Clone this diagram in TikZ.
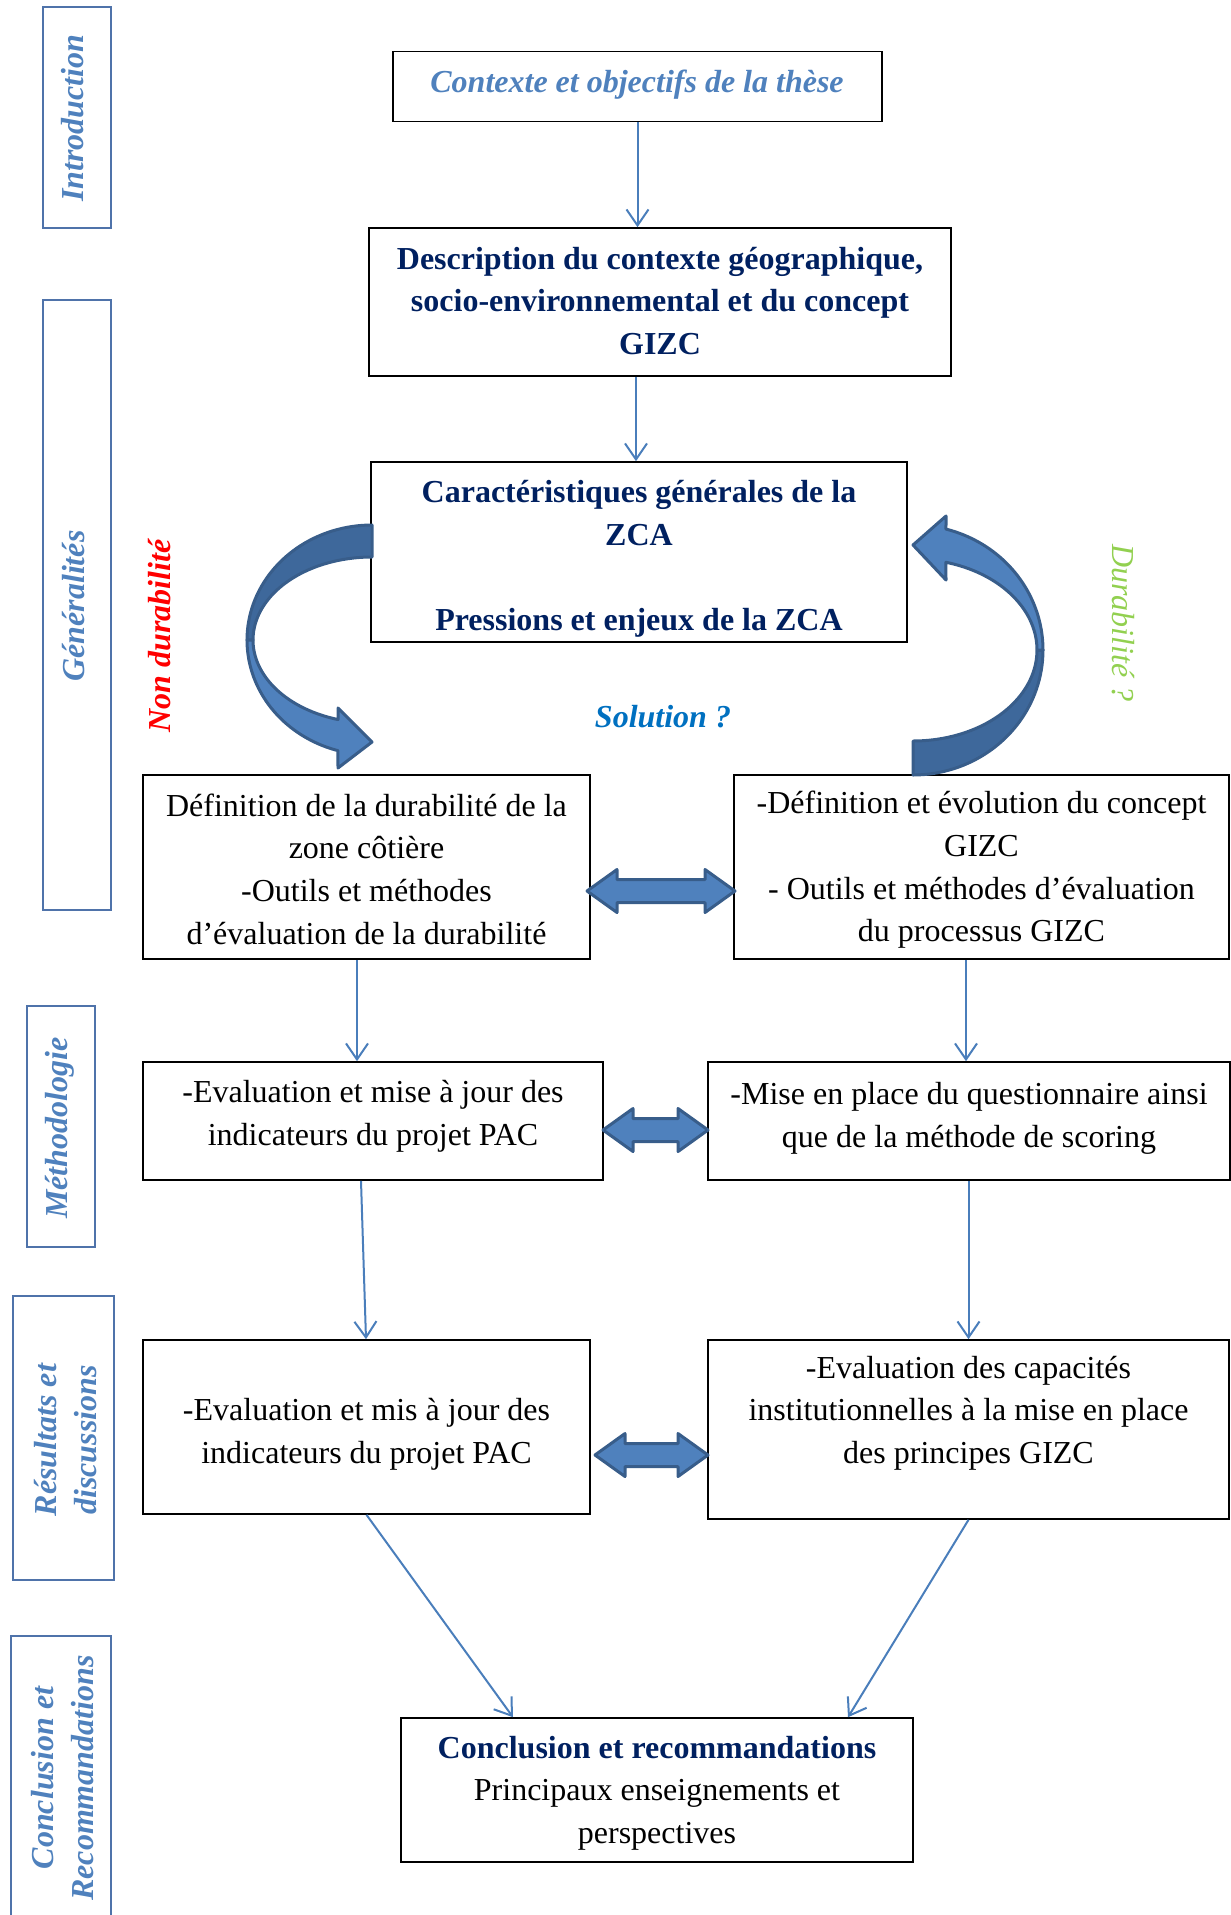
\documentclass[tikz,border=0pt]{standalone}
\usepackage{fontspec}
\setmainfont{Liberation Serif}
\usetikzlibrary{arrows.meta}
\definecolor{navy}{RGB}{0,32,96}
\definecolor{accent}{RGB}{79,129,189}
\definecolor{solblue}{RGB}{0,112,192}
\definecolor{durgreen}{RGB}{146,208,80}
\definecolor{lineblue}{RGB}{74,126,187}
\definecolor{sideedge}{RGB}{79,115,170}
\definecolor{arrowedge}{RGB}{56,93,138}
\definecolor{arrowdark}{RGB}{62,104,155}
\newcommand{\blockdbl}[3]{%
  \filldraw[blockarrow] (#1,#3) -- ++(30,-21.5) -- ++(0,10) -- ({#2-30},{#3-11.5}) -- ++(0,-10) -- (#2,#3)
    -- ({#2-30},{#3+21.5}) -- ++(0,-10) -- ({#1+30},{#3+11.5}) -- ++(0,10) -- cycle;}
\begin{document}
\begin{tikzpicture}[x=1pt,y=-1pt,
  mainbox/.style={draw=black, line width=1.6pt, rectangle, inner sep=0pt},
  sidebox/.style={draw=sideedge, line width=2pt, rectangle, inner sep=0pt},
  txt/.style={font=\fontsize{32}{42.7}\selectfont, align=center, inner sep=0pt},
  navytxt/.style={txt, text=navy, font=\fontsize{32}{42.7}\selectfont\bfseries},
  sidetxt/.style={font=\fontsize{32}{40}\selectfont\bfseries\itshape, text=accent, align=center, inner sep=0pt},
  conn/.style={draw=lineblue, line width=2pt, -{Straight Barb[length=16pt,width=22pt]}},
  blockarrow/.style={fill=accent, draw=arrowedge, line width=3pt, line join=round},
  curvedark/.style={fill=arrowdark, draw=arrowedge, line width=3pt, line join=round},
  curvelight/.style={fill=accent, draw=arrowedge, line width=3pt, line join=round}]
\useasboundingbox (0,0) rectangle (1231,1915);

% side boxes
\node[sidebox, minimum width=68pt, minimum height=221pt] (s1) at (77,117.5) {};
\node[sidebox, minimum width=68pt, minimum height=610pt] (s2) at (77,605) {};
\node[sidebox, minimum width=68pt, minimum height=241pt] (s3) at (61,1126.5) {};
\node[sidebox, minimum width=101pt, minimum height=284pt] (s4) at (63.5,1438) {};
\node[sidebox, minimum width=100pt, minimum height=289pt] (s5) at (61,1780.5) {};
\node[sidetxt, rotate=90, anchor=base] (i1) at (83,118) {Introduction};
\node[sidetxt, rotate=90, anchor=base] (i2) at (84,606) {Généralités};
\node[sidetxt, rotate=90, anchor=base] (i3) at (67,1128) {Méthodologie};
\node[sidetxt, rotate=90] (i4) at (66,1440) {Résultats et\\discussions};
\node[sidetxt, rotate=90] (i5) at (63,1778) {Conclusion et\\Recommandations};

% main boxes
\node[mainbox, minimum width=489pt, minimum height=70pt] (b1) at (637.5,86.5) {};
\node[mainbox, minimum width=582pt, minimum height=148pt] (b2) at (660,302) {};
\node[mainbox, minimum width=536pt, minimum height=180pt] (b3) at (639,552) {};
\node[mainbox, minimum width=447pt, minimum height=184pt] (b4) at (366.5,867) {};
\node[mainbox, minimum width=495pt, minimum height=184pt] (b5) at (981.5,867) {};
\node[mainbox, minimum width=460pt, minimum height=118pt] (b6) at (373,1121) {};
\node[mainbox, minimum width=522pt, minimum height=118pt] (b7) at (969,1121) {};
\node[mainbox, minimum width=447pt, minimum height=174pt] (b8) at (366.5,1427) {};
\node[mainbox, minimum width=521pt, minimum height=179pt] (b9) at (968.5,1429.5) {};
\node[mainbox, minimum width=512pt, minimum height=144pt] (b10) at (657,1790) {};

% texts
\node[txt, text=accent, font=\fontsize{32}{42.7}\selectfont\bfseries\itshape, anchor=base] (t1) at (637,92) {Contexte et objectifs de la thèse};
\node[navytxt] (t2) at (660,301) {Description du contexte géographique,\\socio-environnemental et du concept\\GIZC};
\node[navytxt] (t3) at (639,559) {Caractéristiques générales de la\\ZCA\\[42.7pt]Pressions et enjeux de la ZCA};
\node[txt] (t4) at (366.5,869) {Définition de la durabilité de la\\zone côtière\\-Outils et méthodes\\d’évaluation de la durabilité};
\node[txt] (t5) at (981.5,870) {-Définition et évolution du concept\\GIZC\\- Outils et méthodes d’évaluation\\du processus GIZC};
\node[txt] (t6) at (373,1116) {-Evaluation et mise à jour des\\indicateurs du projet PAC};
\node[txt] (t7) at (969,1118) {-Mise en place du questionnaire ainsi\\que de la méthode de scoring};
\node[txt] (t8) at (366.5,1434) {-Evaluation et mis à jour des\\indicateurs du projet PAC};
\node[txt] (t9) at (968.5,1413) {-Evaluation des capacités\\institutionnelles à la mise en place\\des principes GIZC};
\node[txt] (t10) at (657,1793) {{\bfseries\color{navy}Conclusion et recommandations}\\Principaux enseignements et\\perspectives};

\node[txt, text=solblue, font=\fontsize{32}{42}\selectfont\bfseries\itshape, anchor=base] (sol) at (663,727) {Solution ?};
\node[txt, text=red, font=\fontsize{32}{42}\selectfont\bfseries\itshape, rotate=90, anchor=base] (nd) at (170,636) {Non durabilité};
\node[txt, text=durgreen, font=\fontsize{32}{42}\selectfont\itshape, rotate=-90, anchor=base] (dq) at (1112,623) {Durabilité ?};

% connectors
\draw[conn] (b1.south) -- (b1.south |- b2.north);
\draw[conn] ([xshift=-3pt]b3.north |- b2.south) -- ([xshift=-3pt]b3.north);
\draw[conn] ([xshift=-9.5pt]b4.south) -- ([xshift=-9.5pt]b4.south |- b6.north);
\draw[conn] ([xshift=-3pt]b7.north |- b5.south) -- ([xshift=-3pt]b7.north);
\draw[conn] ([xshift=-12pt]b6.south) -- ([xshift=-0.5pt]b8.north);
\draw[conn] (b9.north |- b7.south) -- (b9.north);
\draw[conn] (b8.south) -- ([xshift=-144pt]b10.north);
\draw[conn] (b9.south) -- ([xshift=191pt]b10.north);

% double block arrows
\blockdbl{587}{735}{891}
\blockdbl{603}{708}{1130}
\blockdbl{595}{708}{1455}

% left curved arrow
\filldraw[curvedark] plot[domain=-90:-180,samples=40] ({372+125*cos(\x)},{640+115*sin(\x)})
  -- plot[domain=-180:-90,samples=40] ({372+119*cos(\x)},{640+83*sin(\x)}) -- cycle;
\filldraw[curvelight] plot[domain=180:105.8,samples=40] ({372+125*cos(\x)},{640+115*sin(\x)})
  -- (338,768) -- (372,742) -- (338,708)
  -- plot[domain=106.6:180,samples=40] ({372+119*cos(\x)},{640+83*sin(\x)}) -- cycle;

% right curved arrow
\filldraw[curvedark] plot[domain=0:90,samples=40] ({913+130*cos(\x)},{650+125*sin(\x)})
  -- plot[domain=90:0,samples=40] ({913+124*cos(\x)},{650+91*sin(\x)}) -- cycle;
\filldraw[curvelight] plot[domain=0:-75.3,samples=40] ({913+130*cos(\x)},{650+125*sin(\x)})
  -- (946,516) -- (913,545) -- (946,580)
  -- plot[domain=-74.6:0,samples=40] ({913+124*cos(\x)},{650+91*sin(\x)}) -- cycle;
\end{tikzpicture}
\end{document}
